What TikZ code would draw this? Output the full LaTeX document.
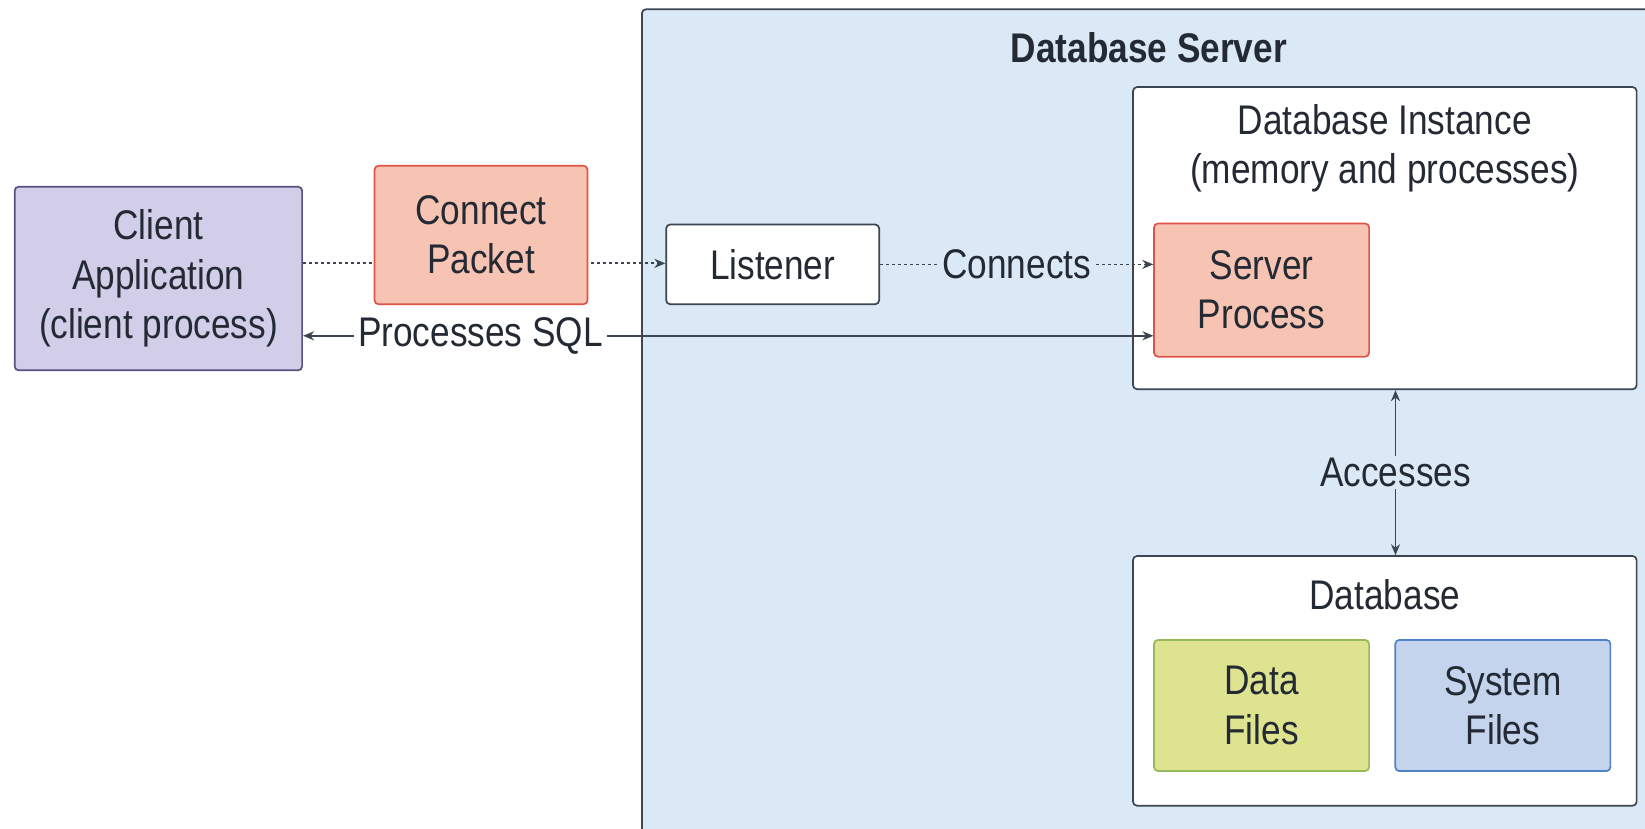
\documentclass[tikz,border=0pt]{standalone}
\usepackage{fontspec}
\setmainfont{Liberation Sans}[FakeStretch=0.85]
\usetikzlibrary{arrows.meta}
\definecolor{srvfill}{RGB}{219,232,245}
\definecolor{edge}{RGB}{60,70,82}
\definecolor{txt}{RGB}{36,42,52}
\definecolor{clifill}{RGB}{210,205,232}
\definecolor{clidraw}{RGB}{86,81,126}
\definecolor{salfill}{RGB}{247,196,180}
\definecolor{saldraw}{RGB}{222,84,70}
\definecolor{datfill}{RGB}{221,227,142}
\definecolor{datdraw}{RGB}{150,185,90}
\definecolor{sysfill}{RGB}{196,212,236}
\definecolor{sysdraw}{RGB}{80,130,200}
\begin{document}
\begin{tikzpicture}[x=1pt,y=-1pt,scale=1.0491,
  every node/.style={transform shape,text=txt,font=\fontsize{39.5}{47}\selectfont,align=center,inner sep=0pt},
  box/.style={draw=edge,line width=1.7pt,rounded corners=4pt,fill=white},
  salbox/.style={box,draw=saldraw,fill=salfill},
  lbl/.style={fill=white,inner xsep=4pt,inner ysep=2pt},
  conn/.style={draw=edge,line width=1.8pt},
  dots/.style={conn,dash pattern=on 3pt off 3pt},
  tip/.style={-{Stealth[length=11pt,width=9pt]}},
  tips/.style={{Stealth[length=11pt,width=9pt]}-{Stealth[length=11pt,width=9pt]}}]
\useasboundingbox (0,0) rectangle (1568,790.2);
\clip (0,0) rectangle (1568,790.2);
\fill[white] (0,0) rectangle (1568,790.2);
% server
\node[box,fill=srvfill,minimum width=1100pt,minimum height=880pt,anchor=north west] (server) at (611,8) {};
\node[font=\bfseries\fontsize{39.5}{47}\selectfont] (title) at (1095,45) {Database Server};
% instance
\node[box,minimum width=480pt,minimum height=288pt] (instance) at (1320,227) {};
\node (insttext) at (1320,141.5) {Database Instance\\(memory and processes)};
\node[salbox,minimum width=205pt,minimum height=127pt] (serverproc) at (1202.5,276.5) {Server\\Process};
% database
\node[box,minimum width=480pt,minimum height=238pt] (database) at (1320,649) {};
\node (dbtext) at (1320,567) {Database};
\node[box,draw=datdraw,fill=datfill,minimum width=205pt,minimum height=125pt] (datafiles) at (1202.5,672.5) {Data\\Files};
\node[box,draw=sysdraw,fill=sysfill,minimum width=205pt,minimum height=125pt] (sysfiles) at (1432.5,672.5) {System\\Files};
% client side
\node[box,draw=clidraw,fill=clifill,minimum width=274pt,minimum height=175pt] (client) at (151,265.5) {Client\\Application\\(client process)};
\node[box,minimum width=203pt,minimum height=76pt] (listener) at (736.5,252) {Listener};
% connectors
\draw[dots,tip] ([yshift=14.5pt]client.east) -- ([yshift=14.5pt]client.east -| listener.west);
\node[salbox,minimum width=203pt,minimum height=132pt] (packet) at (458.5,224) {Connect\\Packet};
\draw[dots,tip] (listener.east) -- (listener.east -| serverproc.west) node[midway,lbl,fill=srvfill] (connlbl) {Connects};
\coordinate (sqlR) at ([yshift=-43.5pt]serverproc.west);
\draw[conn,tips] (sqlR -| client.east) -- (sqlR);
\node[lbl] (sqllbl) at (458,320) {Processes SQL};
\coordinate (accT) at (1330,371);
\draw[conn,tips] (instance.south -| accT) -- (database.north -| accT) node[midway,lbl,fill=srvfill] (acclbl) {Accesses};
\end{tikzpicture}
\end{document}
